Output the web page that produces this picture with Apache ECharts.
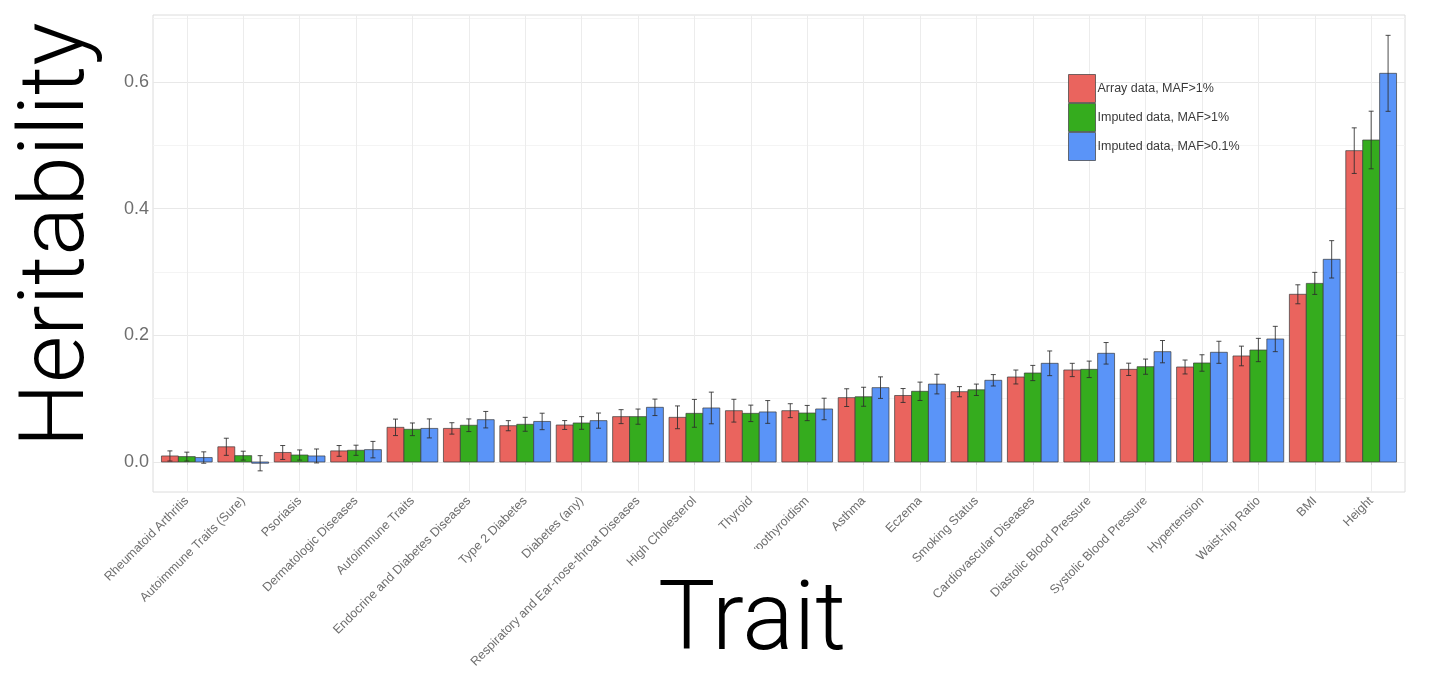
<!DOCTYPE html>
<html>
<head>
<meta charset="utf-8">
<script src="https://cdn.jsdelivr.net/npm/echarts@6/dist/echarts.min.js"></script>
<style>
  html, body { margin: 0; padding: 0; background: #ffffff; }
  #chart { width: 1430px; height: 685px; }
</style>
</head>
<body>
<div id="chart"></div>
<script>
// Traits, ordered by heritability
const traits = [
  'Rheumatoid Arthritis', 'Autoimmune Traits (Sure)', 'Psoriasis', 'Dermatologic Diseases',
  'Autoimmune Traits', 'Endocrine and Diabetes Diseases', 'Type 2 Diabetes', 'Diabetes (any)',
  'Respiratory and Ear-nose-throat Diseases', 'High Cholesterol', 'Thyroid', 'Hypothyroidism',
  'Asthma', 'Eczema', 'Smoking Status', 'Cardiovascular Diseases', 'Diastolic Blood Pressure',
  'Systolic Blood Pressure', 'Hypertension', 'Waist-hip Ratio', 'BMI', 'Height'
];

// Heritability estimates and standard errors per data set
const arrayMaf1 = [0.0095, 0.024, 0.015, 0.0175, 0.0547, 0.053, 0.0573, 0.0584, 0.0716, 0.0705, 0.081,
  0.081, 0.1016, 0.105, 0.111, 0.1342, 0.1453, 0.1463, 0.150, 0.1674, 0.2648, 0.4916];
const arrayMaf1Se = [0.008, 0.0135, 0.011, 0.0085, 0.013, 0.009, 0.008, 0.007, 0.011, 0.018, 0.018,
  0.011, 0.014, 0.011, 0.008, 0.011, 0.0105, 0.0097, 0.011, 0.0155, 0.015, 0.036];

const imputedMaf1 = [0.0085, 0.010, 0.011, 0.0185, 0.0516, 0.058, 0.0595, 0.0616, 0.0716, 0.0768, 0.0768,
  0.0773, 0.103, 0.1116, 0.114, 0.1405, 0.1463, 0.1505, 0.1563, 0.1768, 0.282, 0.5084];
const imputedMaf1Se = [0.007, 0.007, 0.008, 0.008, 0.010, 0.010, 0.011, 0.010, 0.012, 0.022, 0.013,
  0.012, 0.015, 0.0145, 0.009, 0.012, 0.013, 0.012, 0.013, 0.0184, 0.0174, 0.0455];

const imputedMaf01 = [0.007, -0.002, 0.0095, 0.0195, 0.053, 0.0668, 0.064, 0.0653, 0.0863, 0.0853, 0.079,
  0.0837, 0.1174, 0.123, 0.129, 0.1558, 0.1716, 0.1742, 0.1732, 0.1942, 0.320, 0.6137];
const imputedMaf01Se = [0.009, 0.012, 0.011, 0.013, 0.015, 0.013, 0.013, 0.012, 0.013, 0.025, 0.018,
  0.017, 0.017, 0.0155, 0.009, 0.0195, 0.017, 0.0176, 0.0174, 0.020, 0.0295, 0.060];

const seriesNames = ['Array data, MAF>1%', 'Imputed data, MAF>1%', 'Imputed data, MAF>0.1%'];

// Axis breaks
const yGridValues = [0, 0.1, 0.2, 0.3, 0.4, 0.5, 0.6, 0.7];
const yLabelValues = [0, 0.2, 0.4, 0.6];
const xPositions = traits.map((t, i) => i);

const colors = ['#EA645E', '#35AC1E', '#5A94F8'];

// Dodged bar with its error bar; slot picks the position inside the category group
function dodgedBar(slot, color) {
  return function (params, api) {
    const i = api.value(0);
    const v = api.value(1);
    const se = api.value(2);
    const unit = api.size([1, 0])[0];
    const w = unit * 0.9 / 3;
    const base = api.coord([i, 0]);
    const top = api.coord([i, v]);
    const left = base[0] - 1.5 * w + slot * w;
    const cx = left + w / 2;
    const hi = api.coord([i, v + se])[1];
    const lo = api.coord([i, v - se])[1];
    const whisker = { stroke: 'rgba(45,45,45,0.85)', lineWidth: 1 };
    return {
      type: 'group',
      children: [
        {
          type: 'rect',
          shape: { x: left, y: Math.min(base[1], top[1]), width: w, height: Math.max(Math.abs(base[1] - top[1]), 1) },
          style: { fill: color, stroke: 'rgba(60,60,60,0.7)', lineWidth: 1 }
        },
        { type: 'line', shape: { x1: cx, y1: hi, x2: cx, y2: lo }, style: whisker },
        { type: 'line', shape: { x1: cx - 2.5, y1: hi, x2: cx + 2.5, y2: hi }, style: whisker },
        { type: 'line', shape: { x1: cx - 2.5, y1: lo, x2: cx + 2.5, y2: lo }, style: whisker }
      ]
    };
  };
}

function makeSeries(slot, values, errors) {
  return {
    name: seriesNames[slot],
    type: 'custom',
    renderItem: dodgedBar(slot, colors[slot]),
    itemStyle: { color: colors[slot], borderColor: 'rgba(60,60,60,0.7)', borderWidth: 1 },
    encode: { x: 0, y: 1 },
    data: traits.map((t, i) => [i, values[i], errors[i]])
  };
}

const chart = echarts.init(document.getElementById('chart'));
chart.setOption({
  animation: false,
  backgroundColor: '#ffffff',
  color: colors,
  grid: {
    left: 153, right: 25, top: 15, bottom: 193,
    show: true, borderColor: '#dcdcdc', borderWidth: 1, backgroundColor: '#ffffff'
  },
  legend: {
    orient: 'vertical',
    left: 1063, top: 69,
    icon: 'rect',
    itemWidth: 27, itemHeight: 28, itemGap: 0,
    itemStyle: { borderColor: 'rgba(60,60,60,0.7)', borderWidth: 1 },
    textStyle: { fontFamily: 'Liberation Sans', fontSize: 12.5, color: '#3a3a3a', padding: [0, 0, 0, -3] },
    data: seriesNames
  },
  xAxis: {
    type: 'value',
    min: -0.6, max: 21.6,
    axisLine: { show: false },
    axisTick: { show: true, length: 3, lineStyle: { color: '#cfcfcf' }, customValues: xPositions },
    axisLabel: {
      customValues: xPositions,
      rotate: 45, margin: 7,
      fontFamily: 'Liberation Sans', fontSize: 12.5, color: '#6e6e6e',
      formatter: v => traits[Math.round(v)]
    },
    splitLine: { show: true, lineStyle: { color: '#ececec', width: 1 } }
  },
  yAxis: {
    type: 'value',
    min: -0.0474, max: 0.7058,
    axisLine: { show: false },
    axisTick: { show: false, customValues: yGridValues },
    axisLabel: {
      customValues: yLabelValues,
      margin: 4,
      fontFamily: 'Liberation Sans', fontSize: 18, color: '#6e6e6e',
      formatter: v => v.toFixed(1)
    },
    splitLine: { show: true, lineStyle: { color: ['#e8e8e8', '#f4f4f4'], width: 1 } }
  },
  series: [
    makeSeries(0, arrayMaf1, arrayMaf1Se),
    makeSeries(1, imputedMaf1, imputedMaf1Se),
    makeSeries(2, imputedMaf01, imputedMaf01Se)
  ],
  graphic: [
    {
      type: 'rect', z: 100,
      shape: { x: 668, y: 549, width: 192, height: 136 },
      style: { fill: '#ffffff' }
    },
    {
      type: 'text', z: 101,
      x: 752, y: 625,
      style: {
        text: 'Trait', fontFamily: 'Roboto', fontWeight: 300, fontSize: 96,
        fill: '#000000', align: 'center', verticalAlign: 'middle'
      }
    },
    {
      type: 'text', z: 101,
      x: 60, y: 235, rotation: Math.PI / 2,
      style: {
        text: 'Heritability', fontFamily: 'Roboto', fontWeight: 300, fontSize: 91,
        fill: '#000000', align: 'center', verticalAlign: 'middle'
      }
    }
  ]
});
</script>
</body>
</html>
